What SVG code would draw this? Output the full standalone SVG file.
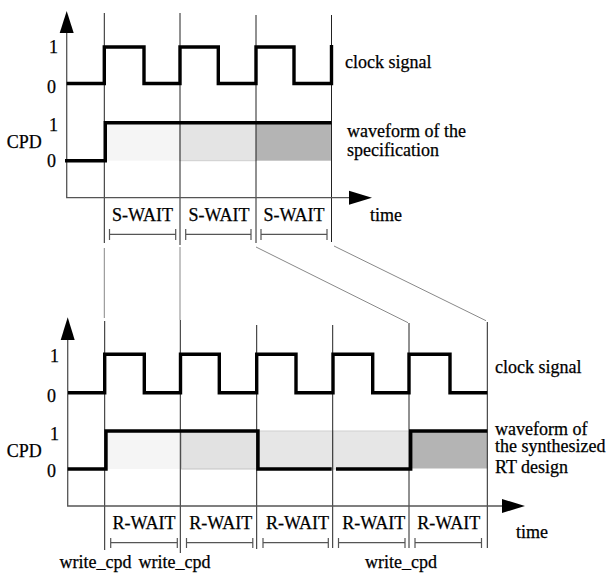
<svg xmlns="http://www.w3.org/2000/svg" width="611" height="574" viewBox="0 0 611 574" font-family="'Liberation Serif', 'Times New Roman', serif" font-size="18">
<style>
text{fill:#000;stroke:#000;stroke-width:0.25}
.mid{text-anchor:middle}
.axis{stroke:#555;stroke-width:1.3;fill:none}
.div{stroke:#222;stroke-width:1;fill:none}
.sig{stroke:#000;stroke-width:3.4;fill:none;stroke-linejoin:miter;stroke-linecap:butt}
.br{stroke:#555;stroke-width:1.2;fill:none}
.con{stroke:#888;stroke-width:1;fill:none}
.arr{fill:#000}
</style>
<rect width="611" height="574" fill="#fff"/>

<g id="top-diagram">
  <g id="top-shading">
    <rect x="105" y="122.7" width="75" height="38" fill="#f5f5f5"/>
    <rect x="180" y="122.7" width="76" height="38" fill="#e4e4e4" stroke="#cfcfcf" stroke-width="1"/>
    <rect x="256" y="122.7" width="75.5" height="38" fill="#b4b4b4"/>
  </g>
  <g id="top-dividers">
    <line class="div" x1="104.3" y1="13" x2="104.3" y2="243"/>
    <line class="div" x1="180" y1="13" x2="180" y2="245"/>
    <line class="div" x1="256" y1="15" x2="256" y2="243"/>
    <line class="div" x1="331.5" y1="15" x2="331.5" y2="242"/>
  </g>
  <g id="top-axes">
    <path class="axis" d="M66.7,30 V197.7 H352"/>
    <polygon class="arr" points="66.7,11 59.7,33 73.7,33"/>
    <polygon class="arr" points="372,197.7 349,190.7 349,204.7"/>
  </g>
  <g id="top-clock">
    <path class="sig" d="M66.7,83.5 H104.3 V47 H144 V83.5 H180 V47 H218.3 V83.5 H256 V47 H294 V83.5 H331.5 V45"/>
  </g>
  <g id="top-cpd">
    <path class="sig" d="M65,160.7 H105.3 V122.7 H331.5"/>
  </g>
  <g id="top-labels">
    <text x="49" y="53.3">1</text>
    <text x="47" y="93">0</text>
    <text x="49" y="130.7">1</text>
    <text x="47" y="166.7">0</text>
    <text x="6.7" y="148.3">CPD</text>
    <text x="345" y="68.3">clock signal</text>
    <text x="347" y="136.5">waveform of the</text>
    <text x="347" y="156">specification</text>
    <text x="370" y="220.5">time</text>
  </g>
  <g id="top-waits">
    <text class="mid" x="142.5" y="221">S-WAIT</text>
    <text class="mid" x="219" y="221">S-WAIT</text>
    <text class="mid" x="294" y="221">S-WAIT</text>
    <path class="br" d="M109.5,229 V240 M109.5,234.3 H175.7 M175.7,229 V240"/>
    <path class="br" d="M185.7,229 V240 M185.7,234.3 H251 M251,229 V240"/>
    <path class="br" d="M261,229 V240 M261,234.3 H327 M327,229 V240"/>
  </g>
</g>

<g id="connectors">
  <line class="con" x1="104.3" y1="248" x2="104.3" y2="318"/>
  <line class="con" x1="180" y1="247" x2="180" y2="320"/>
  <line class="con" x1="256" y1="247" x2="408" y2="322.7"/>
  <line class="con" x1="334" y1="246" x2="486" y2="320.7"/>
</g>

<g id="bottom-diagram">
  <g id="bottom-shading">
    <rect x="106" y="431" width="74.5" height="38" fill="#f5f5f5"/>
    <rect x="181.5" y="431" width="75.5" height="38" fill="#e2e2e2" stroke="#c4c4c4" stroke-width="1"/>
    <rect x="257" y="431" width="76" height="38" fill="#e6e6e6" stroke="#cfcfcf" stroke-width="1"/>
    <rect x="333" y="431" width="76" height="38" fill="#e6e6e6" stroke="#cfcfcf" stroke-width="1"/>
    <rect x="411" y="431.7" width="76.3" height="36.8" fill="#b4b4b4"/>
  </g>
  <g id="bottom-dividers">
    <line class="div" x1="104.7" y1="321" x2="104.7" y2="550"/>
    <line class="div" x1="180.3" y1="320" x2="180.3" y2="553"/>
    <line class="div" x1="256.7" y1="325" x2="256.7" y2="549"/>
    <line class="div" x1="332.7" y1="325" x2="332.7" y2="548"/>
    <line class="div" x1="409" y1="323" x2="409" y2="548"/>
    <line class="div" x1="487.3" y1="322" x2="487.3" y2="548"/>
  </g>
  <g id="bottom-axes">
    <path class="axis" d="M67.7,336 V506 H505"/>
    <polygon class="arr" points="67.7,317.3 60.7,340 74.7,340"/>
    <polygon class="arr" points="525,506 502,499 502,513"/>
  </g>
  <g id="bottom-clock">
    <path class="sig" d="M68,392.7 H104.7 V354.3 H144.3 V392.7 H180.5 V354.3 H219.3 V392.7 H256.7 V354.3 H296 V392.7 H333 V354.3 H372.7 V392.7 H409 V354.3 H450 V392.7 H487.3"/>
  </g>
  <g id="bottom-cpd">
    <path class="sig" d="M67.7,469 H106 V431 H258 V469 H331.7"/>
    <path class="sig" d="M336,469 H410.7 V431 H487.3"/>
  </g>
  <g id="bottom-labels">
    <text x="50" y="362">1</text>
    <text x="47" y="401.7">0</text>
    <text x="50" y="440">1</text>
    <text x="47" y="476.7">0</text>
    <text x="6.7" y="456.7">CPD</text>
    <text x="495" y="373.3">clock signal</text>
    <text x="495" y="434.5">waveform of</text>
    <text x="495" y="452">the synthesized</text>
    <text x="495" y="472.7">RT design</text>
    <text x="516" y="538.3">time</text>
  </g>
  <g id="bottom-waits">
    <text class="mid" x="144" y="528.5">R-WAIT</text>
    <text class="mid" x="220.7" y="528.5">R-WAIT</text>
    <text class="mid" x="297.5" y="528.5">R-WAIT</text>
    <text class="mid" x="373.7" y="528.5">R-WAIT</text>
    <text class="mid" x="448.7" y="528.5">R-WAIT</text>
    <path class="br" d="M110.7,538 V548 M110.7,542.7 H177.3 M177.3,538 V548"/>
    <path class="br" d="M186.5,538 V548 M186.5,542.7 H252.8 M252.8,538 V548"/>
    <path class="br" d="M263,538 V548 M263,542.7 H328.3 M328.3,538 V548"/>
    <path class="br" d="M338.5,538 V548 M338.5,542.7 H405 M405,538 V548"/>
    <path class="br" d="M415,538 V548 M415,542.7 H481.5 M481.5,538 V548"/>
  </g>
  <g id="write-labels">
    <text class="mid" x="95.5" y="568.3">write_cpd</text>
    <text class="mid" x="174.5" y="568.3">write_cpd</text>
    <text class="mid" x="401" y="568.3">write_cpd</text>
  </g>
</g>
</svg>
